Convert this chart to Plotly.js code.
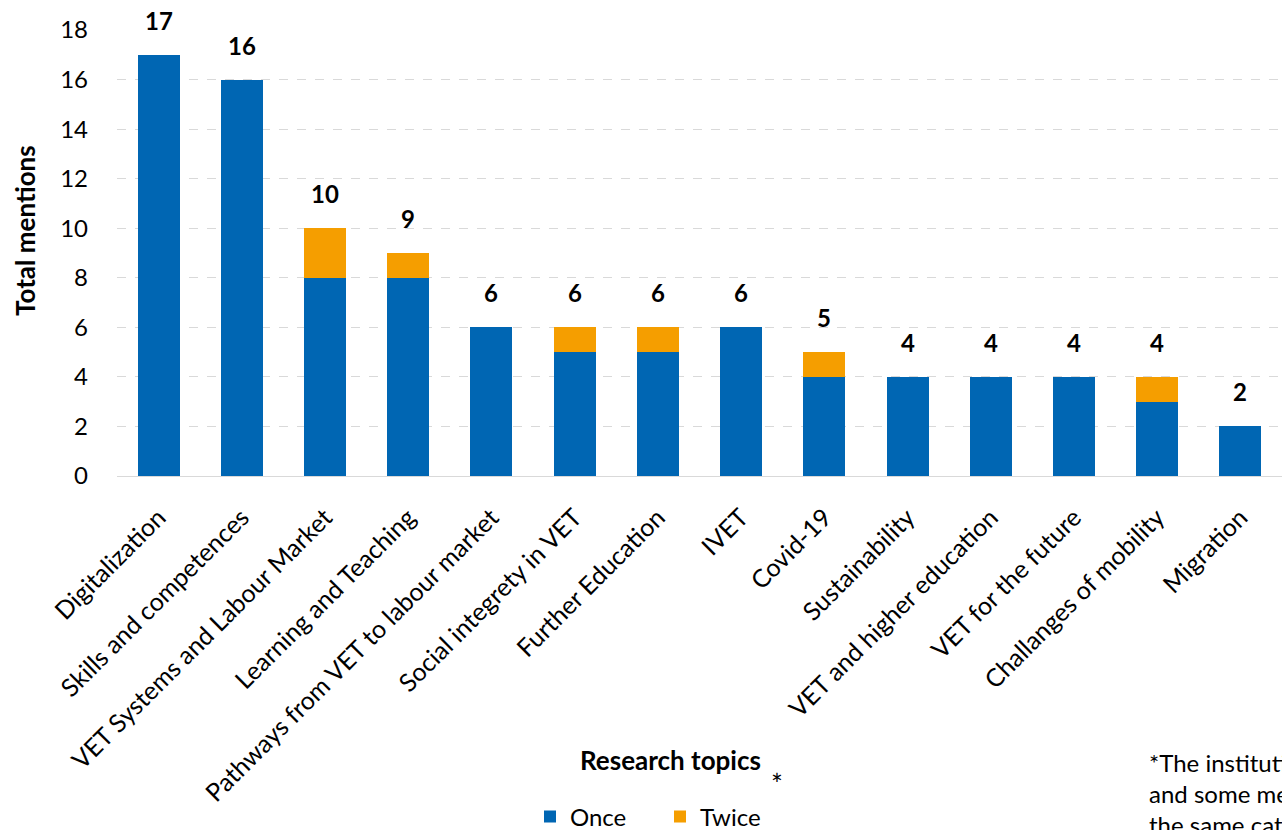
<!DOCTYPE html>
<html>
<head>
<meta charset="utf-8">
<script src="https://cdn.plot.ly/plotly-3.0.1.min.js"></script>
<style>html,body{margin:0;padding:0;background:#fff;overflow:hidden}#chart{width:1282px;height:830px}</style>
</head>
<body>
<div id="chart"></div>
<script>
const categories = ["Digitalization","Skills and competences","VET Systems and Labour Market","Learning and Teaching","Pathways from VET to labour market","Social integrety in VET","Further Education","IVET","Covid-19","Sustainability","VET and higher education","VET for the future","Challanges of mobility","Migration"];
const once = [17,16,8,8,6,5,5,6,4,4,4,4,3,2];
const twice = [0,0,2,1,0,1,1,0,1,0,0,0,1,0];
const yTicks = [0,2,4,6,8,10,12,14,16,18];

const totals = once.map((v,i)=>v+twice[i]);
const FONT = "Lato, 'Open Sans', sans-serif";

const traces = [
  {type:'bar', name:'Once', x:categories, y:once, marker:{color:'#0066B3'}, hoverinfo:'y'},
  {type:'bar', name:'Twice', x:categories, y:twice, marker:{color:'#F59E00'}, hoverinfo:'y'}
];

const annotations = categories.map((c,i)=>({
  x:c, y:totals[i], xref:'x', yref:'y', text:'<b>'+totals[i]+'</b>', showarrow:false,
  yanchor:'bottom', yshift:18, font:{family:FONT, size:24, color:'#000'}
}));
annotations.push({xref:'paper', yref:'paper', x:0.4747, y:-0.637, text:'<b>Research topics</b>', showarrow:false,
  font:{family:FONT, size:26, color:'#000'}, xanchor:'center', yanchor:'middle'});
annotations.push({xref:'paper', yref:'paper', x:0.5665, y:-0.69, text:'*', showarrow:false,
  font:{family:FONT, size:28, color:'#000'}, xanchor:'center', yanchor:'middle'});
annotations.push({xref:'paper', yref:'paper', x:(25-117)/1165, y:(476-231)/446, text:'<b>Total mentions</b>', showarrow:false,
  textangle:-90, font:{family:FONT, size:26, color:'#000'}, xanchor:'center', yanchor:'middle'});
annotations.push({xref:'paper', yref:'paper', x:0.884, y:-0.605, yanchor:'top', xanchor:'left', align:'left',
  text:'*The institutions named up to three topics<br>and some mentioned the same topic twice<br>the same category twice', showarrow:false,
  font:{family:FONT, size:24, color:'#000'}});

const layout = {
  width:1282, height:830,
  margin:{l:117, r:0, t:30, b:354, pad:0, autoexpand:false},
  paper_bgcolor:'#fff', plot_bgcolor:'#fff',
  barmode:'stack', bargap:0.495,
  font:{family:FONT, size:22, color:'#000'},
  xaxis:{tickangle:-45, tickfont:{family:FONT, size:25, color:'#000'}, showgrid:false,
    showline:true, linecolor:'#d9d9d9', linewidth:1, ticks:'', automargin:false, ticklabelstandoff:16},
  yaxis:{range:[0,18], tickvals:yTicks, ticktext:yTicks.map(String), tickfont:{family:FONT, size:24, color:'#000'},
    showgrid:true, gridcolor:'#d9d9d9', griddash:'dash', gridwidth:1, zeroline:false, ticks:'', ticklen:0,
    showline:false, automargin:false, ticklabelstandoff:28},
  showlegend:true,
  legend:{orientation:'h', xref:'container', yref:'container', x:530/1282, xanchor:'left', y:13/830, yanchor:'middle',
    font:{family:FONT, size:24, color:'#000'}, itemwidth:30, traceorder:'normal', entrywidth:85},
  annotations:annotations
};

Plotly.newPlot('chart', traces, layout, {displayModeBar:false, staticPlot:true});
</script>
</body>
</html>
